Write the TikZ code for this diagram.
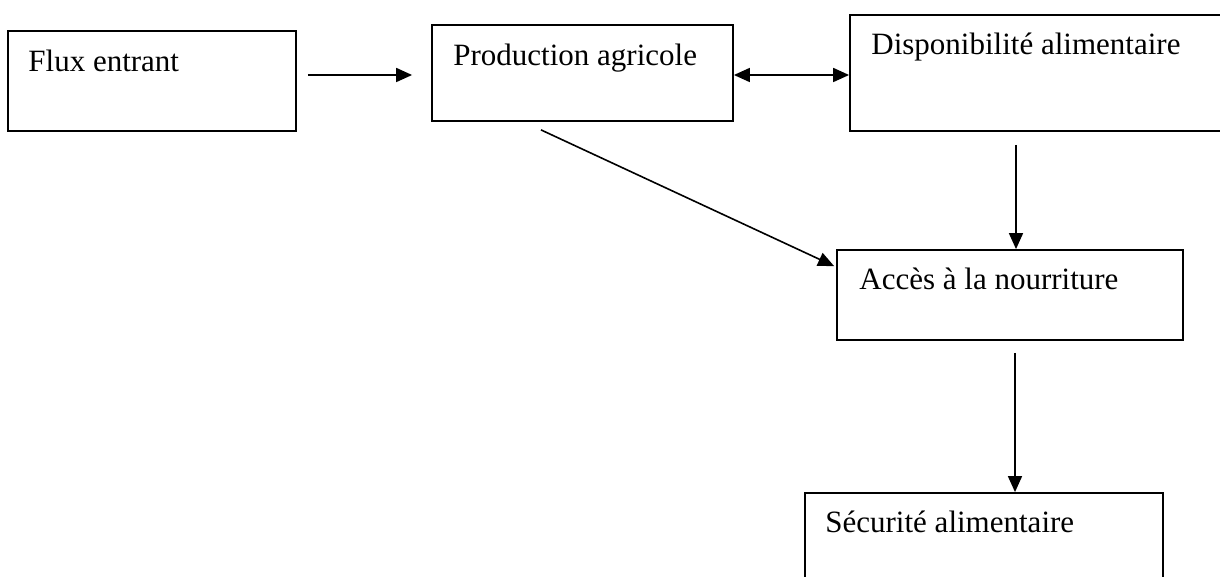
\documentclass[tikz,border=0pt]{standalone}
\usepackage{fontspec}
\setmainfont{Liberation Serif}
\usetikzlibrary{arrows.meta}
\begin{document}
\begin{tikzpicture}[x=0.5pt, y=-0.5pt,
  box/.style={draw, line width=0.9pt, rectangle, inner sep=0pt},
  lbl/.style={anchor=base west, inner sep=0pt, font=\fontsize{15.5}{18}\selectfont},
  arr/.style={line width=0.8pt, -{Triangle[length=8pt,width=7pt]}},
  dblarr/.style={line width=0.9pt, {Triangle[length=8pt,width=7pt]}-{Triangle[length=8pt,width=7pt]}}]
\useasboundingbox (0,0) rectangle (1220,577);
\clip (0,0) rectangle (1220,577);

% Boxes
\node[box, minimum width=144pt, minimum height=50pt] (flux) at (152,81) {};
\node[box, minimum width=150.5pt, minimum height=48pt] (prod) at (582.5,73) {};
\node[box, minimum width=195pt, minimum height=58pt] (dispo) at (1045,73) {};
\node[box, minimum width=173pt, minimum height=45pt] (acces) at (1010,295) {};
\node[box, minimum width=179pt, minimum height=53.5pt] (secu) at (984,546.5) {};

% Texts
\node[lbl] (fluxtxt) at (28,72) {Flux entrant};
\node[lbl] (prodtxt) at (453,66) {Production agricole};
\node[lbl] (dispotxt) at (871,55) {Disponibilité alimentaire};
\node[lbl] (accestxt) at (859,289) {Accès à la nourriture};
\node[lbl] (secutxt) at (825,532) {Sécurité alimentaire};

% Arrows
\draw[arr, line width=0.9pt] ([xshift=5.5pt,yshift=3pt]flux.east) -- ([xshift=-9.5pt,yshift=-1pt]prod.west);
\draw[dblarr] ([yshift=-1pt]prod.east) -- ([yshift=-1pt]dispo.west);
\draw[arr] ([xshift=-20.75pt,yshift=-4pt]prod.south) -- ([xshift=-1pt,yshift=-8.5pt]acces.north west);
\coordinate (dispoout) at ([xshift=-14.5pt,yshift=-6.5pt]dispo.south);
\draw[arr] (dispoout) -- (dispoout |- acces.north);
\coordinate (accesout) at ([xshift=2.5pt,yshift=-6pt]acces.south);
\draw[arr] (accesout) -- (accesout |- secu.north);
\end{tikzpicture}
\end{document}
